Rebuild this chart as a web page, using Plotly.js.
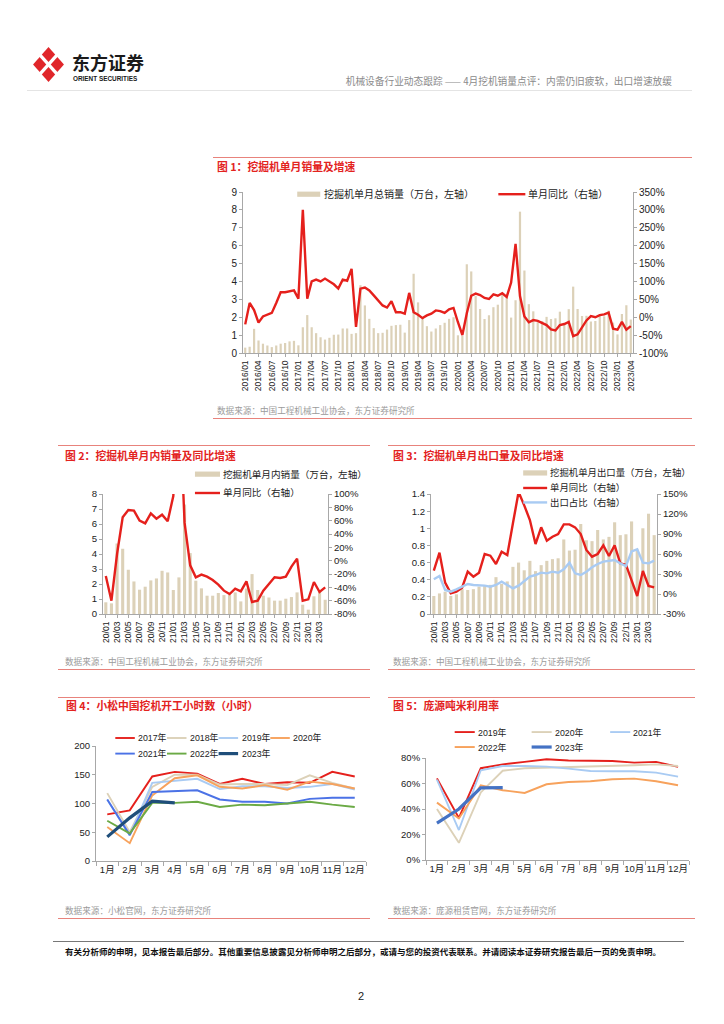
<!DOCTYPE html>
<html><head><meta charset="utf-8">
<script src="https://cdn.plot.ly/plotly-3.0.1.min.js"></script>
<style>
body{margin:0;width:724px;height:1024px;position:relative;background:#fff;overflow:hidden;font-family:"Liberation Sans","Noto Sans CJK SC",sans-serif}
.t{position:absolute;white-space:nowrap;line-height:1;transform:translateY(-50%)}
.ttl{color:#E3231E;font-weight:bold;font-size:10.8px;font-family:"Noto Sans CJK SC",sans-serif}
.src{color:#9b9b9b;font-size:8.6px;font-family:"Noto Sans CJK SC",sans-serif}
.rl{position:absolute;height:1px;background:#E8837C}
.ch{position:absolute}
</style></head><body>

<svg class="ch" style="left:33px;top:47px" width="31" height="35" viewBox="0 0 30 34">
<polygon points="15,0 30,17 15,34 0,17" fill="#E0262A"/>
<line x1="6" y1="7" x2="24" y2="27" stroke="#fff" stroke-width="3.2"/>
<line x1="24" y1="7" x2="6" y2="27" stroke="#fff" stroke-width="3.2"/>
</svg>
<div class="t" style="left:72px;top:62px;font-size:18px;font-weight:bold;font-family:'Noto Sans CJK SC';color:#1a1a1a">东方证券</div>
<div class="t" style="left:73px;top:78.5px;font-size:6.4px;font-weight:bold;color:#1a1a1a">ORIENT SECURITIES</div>
<div class="t" style="right:52px;top:82px;font-size:9.7px;color:#8a8a8a;font-family:'Noto Sans CJK SC'">机械设备行业动态跟踪 —— 4月挖机销量点评：内需仍旧疲软，出口增速放缓</div>
<div class="rl" style="left:27px;top:90px;width:665px;background:#e4e4e4"></div>

<div class="rl" style="left:213px;top:157px;width:479px"></div>
<div class="t ttl" style="left:217px;top:166px">图 1：挖掘机单月销量及增速</div>
<div id="c1" class="ch"></div>
<div class="t src" style="left:217px;top:410px">数据来源：中国工程机械工业协会，东方证券研究所</div>
<div class="rl" style="left:213px;top:418px;width:479px"></div>

<div class="rl" style="left:58px;top:445px;width:312px"></div>
<div class="t ttl" style="left:65px;top:455px">图 2：挖掘机单月内销量及同比增速</div>
<div id="c2" class="ch"></div>
<div class="t src" style="left:65px;top:661px">数据来源：中国工程机械工业协会，东方证券研究所</div>
<div class="rl" style="left:58px;top:669px;width:312px"></div>

<div class="rl" style="left:388px;top:445px;width:307px"></div>
<div class="t ttl" style="left:393px;top:455px">图 3：挖掘机单月出口量及同比增速</div>
<div id="c3" class="ch"></div>
<div class="t src" style="left:393px;top:661px">数据来源：中国工程机械工业协会，东方证券研究所</div>
<div class="rl" style="left:388px;top:669px;width:307px"></div>

<div class="rl" style="left:58px;top:697px;width:312px"></div>
<div class="t ttl" style="left:66px;top:705px">图 4：小松中国挖机开工小时数（小时）</div>
<div id="c4" class="ch"></div>
<div class="t src" style="left:65px;top:910px">数据来源：小松官网，东方证券研究所</div>
<div class="rl" style="left:58px;top:918px;width:312px"></div>

<div class="rl" style="left:388px;top:697px;width:307px"></div>
<div class="t ttl" style="left:393px;top:705px">图 5：庞源吨米利用率</div>
<div id="c5" class="ch"></div>
<div class="t src" style="left:393px;top:910px">数据来源：庞源租赁官网，东方证券研究所</div>
<div class="rl" style="left:388px;top:918px;width:307px"></div>

<div class="rl" style="left:53px;top:941px;width:631px;background:#777"></div>
<div class="t" style="left:65px;top:951px;font-size:8.53px;font-weight:bold;color:#111;font-family:'Noto Sans CJK SC'">有关分析师的申明，见本报告最后部分。其他重要信息披露见分析师申明之后部分，或请与您的投资代表联系。并请阅读本证券研究报告最后一页的免责申明。</div>
<div class="t" style="left:358px;top:996px;font-size:11px;color:#222">2</div>

<script>
// ---------- Chart 1 data ----------
const c1Months = ["2016/01","2016/02","2016/03","2016/04","2016/05","2016/06","2016/07","2016/08","2016/09","2016/10","2016/11","2016/12",
"2017/01","2017/02","2017/03","2017/04","2017/05","2017/06","2017/07","2017/08","2017/09","2017/10","2017/11","2017/12",
"2018/01","2018/02","2018/03","2018/04","2018/05","2018/06","2018/07","2018/08","2018/09","2018/10","2018/11","2018/12",
"2019/01","2019/02","2019/03","2019/04","2019/05","2019/06","2019/07","2019/08","2019/09","2019/10","2019/11","2019/12",
"2020/01","2020/02","2020/03","2020/04","2020/05","2020/06","2020/07","2020/08","2020/09","2020/10","2020/11","2020/12",
"2021/01","2021/02","2021/03","2021/04","2021/05","2021/06","2021/07","2021/08","2021/09","2021/10","2021/11","2021/12",
"2022/01","2022/02","2022/03","2022/04","2022/05","2022/06","2022/07","2022/08","2022/09","2022/10","2022/11","2022/12",
"2023/01","2023/02","2023/03","2023/04"];
const c1Ticks = ["2016/01","2016/04","2016/07","2016/10","2017/01","2017/04","2017/07","2017/10","2018/01","2018/04","2018/07","2018/10",
"2019/01","2019/04","2019/07","2019/10","2020/01","2020/04","2020/07","2020/10","2021/01","2021/04","2021/07","2021/10",
"2022/01","2022/04","2022/07","2022/10","2023/01","2023/04"];
const c1Sales = [0.30,0.35,1.35,0.70,0.52,0.42,0.33,0.42,0.52,0.56,0.65,0.68,
0.43,1.44,2.12,1.44,1.11,0.88,0.75,0.85,1.02,1.03,1.37,1.37,
1.07,1.11,3.79,2.66,1.91,1.39,1.11,1.13,1.31,1.52,1.56,1.58,
1.14,1.84,4.43,2.83,1.93,1.50,1.20,1.37,1.56,1.69,1.91,2.00,
0.99,0.95,4.96,4.56,3.18,2.46,1.90,2.11,2.56,2.70,3.31,3.15,
1.98,2.95,7.90,4.61,2.73,2.33,1.72,1.79,2.02,1.90,1.94,2.31,
1.58,2.45,3.71,2.46,2.07,2.08,1.76,1.79,2.09,2.05,2.37,1.70,
1.04,2.18,2.67,1.87];
const c1Yoy = [-20,40,20,-15,2,7,12,40,70,70,72,75,
52,300,52,100,105,100,108,100,92,80,105,102,
135,-27,80,83,75,61,47,33,27,45,14,14,
10,68,14,7,-2.5,5,10,19,17,12,22,26,
-14,-50,11,60,66,62,54,51,64,60,67,57,
97,205,59,2,-14,-8,-10,-15,-22,-34,-37,-22,
-19,-13,-53,-48,-28,-9,3,0,6,8,13,-32,
-35,-13,-35,-25];
const c1Names = ["挖掘机单月总销量（万台，左轴）","单月同比（右轴）"];
const c1PctTicks = [-100,-50,0,50,100,150,200,250,300,350];

// ---------- Charts 2 & 3 data ----------
const c23Months = ["20/01","20/02","20/03","20/04","20/05","20/06","20/07","20/08","20/09","20/10","20/11","20/12",
"21/01","21/02","21/03","21/04","21/05","21/06","21/07","21/08","21/09","21/10","21/11","21/12",
"22/01","22/02","22/03","22/04","22/05","22/06","22/07","22/08","22/09","22/10","22/11","22/12",
"23/01","23/02","23/03","23/04"];
const c23Ticks = ["20/01","20/03","20/05","20/07","20/09","20/11","21/01","21/03","21/05","21/07","21/09","21/11",
"22/01","22/03","22/05","22/07","22/09","22/11","23/01","23/03"];
const c2Domestic = [0.78,0.71,4.70,4.35,2.95,2.17,1.62,1.82,2.24,2.37,2.88,2.77,
1.60,2.44,7.30,4.06,2.22,1.71,1.22,1.22,1.40,1.26,1.29,1.44,
0.84,1.70,2.66,1.60,1.22,1.10,0.89,0.89,1.02,1.13,1.44,0.62,
0.29,1.18,1.50,0.95];
const c2Yoy = [-23,-60,10,65,76,75,60,56,71,63,69,59,
97,260,57,-7,-25,-21,-24,-29,-36,-45,-50,-42,
-46,-31,-62,-60,-45,-35,-25,-26,-24,-9,3,-60,
-58,-32,-47,-40];
const c2Names = ["挖掘机单月内销量（万台，左轴）","单月同比（右轴）"];
const c2PctTicks = [-80,-60,-40,-20,0,20,40,60,80,100];

const c3Export = [0.21,0.24,0.26,0.21,0.23,0.29,0.28,0.29,0.32,0.33,0.34,0.43,
0.35,0.38,0.55,0.60,0.51,0.62,0.50,0.57,0.62,0.64,0.65,0.87,
0.74,0.75,1.05,0.86,0.85,0.98,0.87,0.90,1.07,0.92,0.93,1.08,
0.75,1.00,1.17,0.92];
const c3Yoy = [35,62,17,1,3.5,9.5,33.5,26,32,60,57.5,45,
63.5,58.5,106,153,133,111,75,100,80,86,90,104.5,
104.5,100,90,66,56,60,73,57,73,46,44,21,
-3,34.5,12,10];
const c3Share = [22,27,6,3.5,7,11,15,13.5,13.5,12.5,11,13.5,
18.5,13.5,8.5,12.5,20,26,28.5,32,31,33.5,32,37,
47,31,28.5,33.5,40,45,48.5,50,51,46,42,64,
67,47,46,50];
const c3Names = ["挖掘机单月出口量（万台，左轴）","单月同比（右轴）","出口占比（右轴）"];
const c3PctTicks = [-30,0,30,60,90,120,150];

// ---------- Chart 4 data ----------
const months12 = ["1月","2月","3月","4月","5月","6月","7月","8月","9月","10月","11月","12月"];
const c4Names = ["2017年","2018年","2019年","2020年","2021年","2022年","2023年"];
const c4_2017 = [81,88,147,155,152,134,143,134,137,136,155,147];
const c4_2018 = [118,50,129,150,150,133,134,134,132,149,136,126];
const c4_2019 = [107,45,136,139,143,125,130,130,127,129,134,124];
const c4_2020 = [59,31,114,144,149,129,126,132,124,138,134,126];
const c4_2021 = [107,45,120,121,123,107,103,103,100,108,110,110];
const c4_2022 = [70,48,101,101,103,94,98,97,100,103,98,94];
const c4_2023 = [42,75,104,101];

// ---------- Chart 5 data ----------
const c5Names = ["2019年","2020年","2021年","2022年","2023年"];
const c5_2019 = [64,33,72,75,77,79,78,78,77.7,76.4,77,73];
const c5_2020 = [40,13.5,53,70,72,72.4,73,73,73.5,74.3,75,73.7];
const c5_2021 = [63,23.5,70.4,73.7,73.7,73.2,71.7,69.8,69.6,69.6,68.5,65.4];
const c5_2022 = [45,32.6,58.6,54.7,52.6,59.4,61.2,61.8,63.3,63.8,61.8,58.6];
const c5_2023 = [29,40,56.5,56.8];
const c5PctTicks = [0,20,40,60,80];

// ---------- styling ----------
const FONT = '"Liberation Sans", "Noto Sans CJK SC", sans-serif';
const RED = '#E5201C', BEIGE = '#DCD1B8', LBLUE = '#A9CBF3';
const C4COL = ['#E5201C','#DCD1B8','#A9CBF3','#F7A25C','#4B72E6','#6BAA45','#1F4E7A'];
const C5COL = ['#E5201C','#DCD1B8','#A9CBF3','#F7A25C','#4472C4'];
const pct = arr => arr.map(v => v + '%');

function ax(extra){
  return Object.assign({showgrid:false, zeroline:false, showline:true, linecolor:'#a8a8a8', linewidth:1,
    ticks:'outside', ticklen:3, tickcolor:'#a8a8a8', tickfont:{size:10,color:'#222'}, fixedrange:true}, extra);
}

function mk(id, box, plot, traces, axes, legend){
  const el = document.getElementById(id);
  Object.assign(el.style,{left:box.L+'px',top:box.T+'px',width:box.W+'px',height:box.H+'px'});
  const m = {l:plot.x0-box.L, r:box.L+box.W-plot.x1, t:plot.y0-box.T, b:box.T+box.H-plot.y1, pad:0};
  const px = X => (X-plot.x0)/(plot.x1-plot.x0);
  const py = Y => (plot.y1-Y)/(plot.y1-plot.y0);
  const shapes=[], ann=[];
  legend.forEach(it=>{
    if(it.kind==='bar') shapes.push({type:'rect',xref:'paper',yref:'paper',x0:px(it.x0),x1:px(it.x1),y0:py(it.y+2.6),y1:py(it.y-2.6),fillcolor:it.color,line:{width:0}});
    else shapes.push({type:'line',xref:'paper',yref:'paper',x0:px(it.x0),x1:px(it.x1),y0:py(it.y),y1:py(it.y),line:{color:it.color,width:it.width}});
    ann.push({xref:'paper',yref:'paper',x:px(it.tx),y:py(it.y),text:it.text,showarrow:false,xanchor:'left',yanchor:'middle',borderpad:0,font:{size:it.size,color:'#222'}});
  });
  const layout = Object.assign({width:box.W,height:box.H,margin:m,showlegend:false,
    paper_bgcolor:'rgba(0,0,0,0)',plot_bgcolor:'rgba(0,0,0,0)',font:{family:FONT,color:'#222'},
    shapes:shapes,annotations:ann},axes);
  Plotly.newPlot(el,traces,layout,{staticPlot:true,displayModeBar:false});
}

// Chart 1
mk('c1',{L:212,T:175,W:512,H:230},{x0:242.8,x1:632.6,y0:192.3,y1:352.7},
 [{type:'bar',x:c1Months,y:c1Sales,marker:{color:BEIGE},name:c1Names[0]},
  {type:'scatter',mode:'lines',x:c1Months,y:c1Yoy,yaxis:'y2',line:{color:RED,width:2.4},name:c1Names[1]}],
 {bargap:0.5,
  xaxis:ax({type:'category',range:[-0.5,c1Months.length-0.5],tickvals:c1Ticks,ticktext:c1Ticks,tickangle:-90,tickfont:{size:8.5,color:'#222'}}),
  yaxis:ax({range:[0,9],dtick:1,tick0:0}),
  yaxis2:ax({overlaying:'y',side:'right',range:[-100,350],tickvals:c1PctTicks,ticktext:pct(c1PctTicks)})},
 [{kind:'bar',x0:297,x1:320,y:194.5,tx:323,text:c1Names[0],color:BEIGE,size:10},
  {kind:'line',x0:498,x1:525,y:194.5,tx:527,text:c1Names[1],color:RED,width:2.4,size:10}]);

// Chart 2
mk('c2',{L:58,T:460,W:330,H:200},{x0:103.3,x1:327.7,y0:494.3,y1:614},
 [{type:'bar',x:c23Months,y:c2Domestic,marker:{color:BEIGE},name:c2Names[0]},
  {type:'scatter',mode:'lines',x:c23Months,y:c2Yoy,yaxis:'y2',line:{color:RED,width:2.4},name:c2Names[1]}],
 {bargap:0.45,
  xaxis:ax({type:'category',range:[-0.5,c23Months.length-0.5],tickvals:c23Ticks,ticktext:c23Ticks,tickangle:-90,tickfont:{size:8.6,color:'#222'}}),
  yaxis:ax({range:[0,8],dtick:1,tick0:0,tickfont:{size:9.6,color:'#222'}}),
  yaxis2:ax({overlaying:'y',side:'right',range:[-80,100],tickvals:c2PctTicks,ticktext:pct(c2PctTicks),tickfont:{size:9.6,color:'#222'}})},
 [{kind:'bar',x0:195,x1:220,y:474.5,tx:222,text:c2Names[0],color:BEIGE,size:9.6},
  {kind:'line',x0:195,x1:220,y:493.3,tx:222,text:c2Names[1],color:RED,width:2.4,size:9.6}]);

// Chart 3
mk('c3',{L:385,T:460,W:339,H:200},{x0:430.7,x1:657,y0:494.3,y1:614},
 [{type:'bar',x:c23Months,y:c3Export,marker:{color:BEIGE},name:c3Names[0]},
  {type:'scatter',mode:'lines',x:c23Months,y:c3Yoy,yaxis:'y2',line:{color:RED,width:2.4},name:c3Names[1]},
  {type:'scatter',mode:'lines',x:c23Months,y:c3Share,yaxis:'y2',line:{color:LBLUE,width:2.4},name:c3Names[2]}],
 {bargap:0.45,
  xaxis:ax({type:'category',range:[-0.5,c23Months.length-0.5],tickvals:c23Ticks,ticktext:c23Ticks,tickangle:-90,tickfont:{size:8.6,color:'#222'}}),
  yaxis:ax({range:[0,1.4],dtick:0.2,tick0:0,tickfont:{size:9.6,color:'#222'}}),
  yaxis2:ax({overlaying:'y',side:'right',range:[-30,150],tickvals:c3PctTicks,ticktext:pct(c3PctTicks),tickfont:{size:9.6,color:'#222'}})},
 [{kind:'bar',x0:523,x1:547,y:473.3,tx:549,text:c3Names[0],color:BEIGE,size:9.4},
  {kind:'line',x0:523,x1:547,y:488.3,tx:549,text:c3Names[1],color:RED,width:2.4,size:9.4},
  {kind:'line',x0:523,x1:547,y:502.7,tx:549,text:c3Names[2],color:LBLUE,width:2.4,size:9.4}]);

// Chart 4
const c4Series = [c4_2017,c4_2018,c4_2019,c4_2020,c4_2021,c4_2022,c4_2023];
const c4Traces = c4Series.map((s,i)=>({type:'scatter',mode:'lines',x:months12.slice(0,s.length),y:s,name:c4Names[i],
  line:{color:C4COL[i],width:i===6?3.2:1.9}}));
const c4Cols=[115,166.7,218.3,270], c4Rows=[737.7,753.3];
const c4Pos=[[0,0],[1,0],[2,0],[3,0],[0,1],[1,1],[2,1]];
mk('c4',{L:58,T:715,W:320,H:185},{x0:95.7,x1:365.7,y0:745.7,y1:860.7},
 c4Traces,
 {xaxis:ax({type:'category',range:[-0.5,11.5],tickson:'boundaries',ticklen:4,tickangle:0,tickfont:{size:9.5,color:'#222'}}),
  yaxis:ax({range:[0,200],dtick:50,tick0:0,tickfont:{size:9.5,color:'#222'}})},
 c4Pos.map((p,i)=>({kind:'line',x0:c4Cols[p[0]],x1:c4Cols[p[0]]+19.5,y:c4Rows[p[1]],tx:c4Cols[p[0]]+22,text:c4Names[i],
  color:C4COL[i],width:i===6?3.2:1.9,size:8.8})));

// Chart 5
const c5Series = [c5_2019,c5_2020,c5_2021,c5_2022,c5_2023];
const c5Traces = c5Series.map((s,i)=>({type:'scatter',mode:'lines',x:months12.slice(0,s.length),y:s,name:c5Names[i],
  line:{color:C5COL[i],width:i===4?3.2:1.9}}));
const c5Cols=[455,531.7,610], c5Rows=[731.7,746.7];
const c5Pos=[[0,0],[1,0],[2,0],[0,1],[1,1]];
mk('c5',{L:385,T:715,W:339,H:185},{x0:426.4,x1:688.6,y0:757.7,y1:860},
 c5Traces,
 {xaxis:ax({type:'category',range:[-0.5,11.5],tickson:'boundaries',ticklen:4,tickangle:0,tickfont:{size:9.5,color:'#222'}}),
  yaxis:ax({range:[0,80],tickvals:c5PctTicks,ticktext:pct(c5PctTicks),tickfont:{size:9.5,color:'#222'}})},
 c5Pos.map((p,i)=>({kind:'line',x0:c5Cols[p[0]],x1:c5Cols[p[0]]+20,y:c5Rows[p[1]],tx:c5Cols[p[0]]+22,text:c5Names[i],
  color:C5COL[i],width:i===4?3.2:1.9,size:8.8})));
</script>
</body></html>
